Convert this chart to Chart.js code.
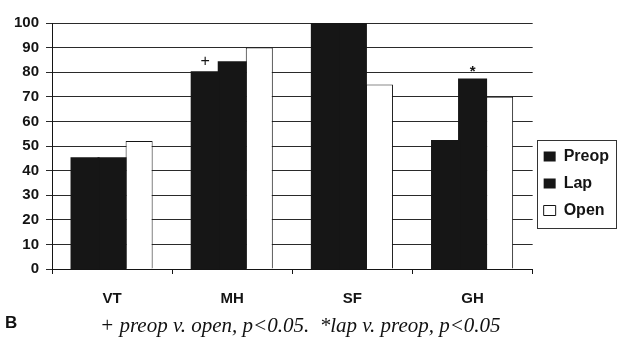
<!DOCTYPE html>
<html>
<head>
<meta charset="utf-8">
<script src="https://cdn.jsdelivr.net/npm/chart.js@4.4.1/dist/chart.umd.min.js"></script>
<style>
  html, body { margin: 0; padding: 0; background: #fff; }
  #wrap { position: relative; width: 628px; height: 344px; }
  #c { position: absolute; left: 0; top: 0; }
  .lbl { position: absolute; color: #111; white-space: nowrap; }
  #b { left: 5px; top: 313px; font: bold 17px "Liberation Sans", Arial, sans-serif; }
  #note { left: 100px; top: 313px; font: italic 21px "Liberation Serif", "Times New Roman", serif; }
</style>
</head>
<body>
<div id="wrap">
  <canvas id="c" width="628" height="344"></canvas>
  <div id="b" class="lbl">B</div>
  <div id="note" class="lbl">+ preop v. open, p&lt;0.05.&nbsp;&nbsp;*lap v. preop, p&lt;0.05</div>
</div>
<script>
const categories = ['VT', 'MH', 'SF', 'GH'];
const preop = [45, 80, 100, 52];
const lap = [45, 84, 100, 77];
const open = [52, 90, 75, 70];
const yTicks = [0, 10, 20, 30, 40, 50, 60, 70, 80, 90, 100];
const markers = [
  { dataset: 0, index: 1, text: '+' },
  { dataset: 1, index: 3, text: '*' }
];

const INK = '#141414';

const markerPlugin = {
  id: 'markers',
  afterDatasetsDraw(chart) {
    const ctx = chart.ctx;
    ctx.save();
    ctx.fillStyle = INK;
    ctx.textAlign = 'center';
    ctx.textBaseline = 'bottom';
    markers.forEach(m => {
      const el = chart.getDatasetMeta(m.dataset).data[m.index];
      if (!el) return;
      ctx.font = m.text === '*' ? 'bold 15px "Liberation Sans", Arial' : '16px "Liberation Sans", Arial';
      ctx.fillText(m.text, el.x, el.y - (m.text === '*' ? 0 : 3));
    });
    ctx.restore();
  }
};

const legendBorder = {
  id: 'legendBorder',
  afterDraw(chart) {
    const lg = chart.legend;
    if (!lg || !lg.legendHitBoxes || !lg.legendHitBoxes.length) return;
    const hb = lg.legendHitBoxes;
    const first = hb[0], last = hb[hb.length - 1];
    let maxW = 0;
    hb.forEach(h => { maxW = Math.max(maxW, h.width); });
    const x0 = first.left - 7, x1 = first.left + maxW + 7;
    const y0 = first.top - 9, y1 = last.top + last.height + 9;
    const ctx = chart.ctx;
    ctx.save();
    ctx.strokeStyle = '#333';
    ctx.lineWidth = 1;
    ctx.strokeRect(Math.round(x0) + 0.5, Math.round(y0) + 0.5, Math.round(x1 - x0), Math.round(y1 - y0));
    ctx.restore();
  }
};

new Chart(document.getElementById('c'), {
  type: 'bar',
  data: {
    labels: categories,
    datasets: [
      { label: 'Preop', data: preop, backgroundColor: '#161616', borderColor: '#161616', borderWidth: 0, inflateAmount: 1 },
      { label: 'Lap', data: lap, backgroundColor: '#161616', borderColor: '#161616', borderWidth: 0, inflateAmount: 1 },
      { label: 'Open', data: open, backgroundColor: '#ffffff', borderColor: INK, borderWidth: 1 }
    ]
  },
  options: {
    responsive: false,
    animation: false,
    devicePixelRatio: 1,
    layout: { padding: { left: 0, top: 23, right: 9, bottom: 0 } },
    datasets: { bar: { categoryPercentage: 0.675, barPercentage: 1.0 } },
    plugins: {
      legend: {
        position: 'right',
        labels: {
          color: INK,
          font: { family: '"Liberation Sans", Arial', size: 16, weight: 'bold' },
          boxWidth: 12,
          boxHeight: 10,
          padding: 11
        }
      },
      tooltip: { enabled: false },
      title: { display: false }
    },
    scales: {
      x: {
        grid: { display: true, drawOnChartArea: false, offset: true, color: INK, tickLength: 5 },
        border: { display: true, color: INK, width: 1 },
        ticks: {
          color: INK,
          padding: 16,
          font: { family: '"Liberation Sans", Arial', size: 15, weight: 'bold' }
        },
        afterFit(scale) { scale.height = 75; }
      },
      y: {
        min: 0,
        max: 100,
        afterBuildTicks(scale) { scale.ticks = yTicks.map(v => ({ value: v })); },
        grid: { color: '#2a2a2a', lineWidth: 1, tickLength: 6 },
        border: { display: true, color: INK, width: 1 },
        ticks: {
          color: INK,
          padding: 7,
          font: { family: '"Liberation Sans", Arial', size: 15, weight: 'bold' }
        },
        afterFit(scale) { scale.width = 52; }
      }
    }
  },
  plugins: [markerPlugin, legendBorder]
});
</script>
</body>
</html>
